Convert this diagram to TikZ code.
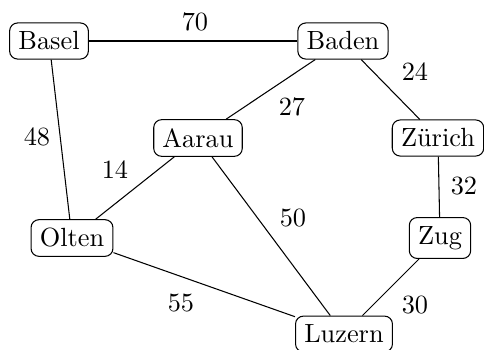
\documentclass[tikz,border=0pt]{standalone}
\begin{document}
\begin{tikzpicture}[x=0.38pt,y=-0.38pt,
  city/.style={draw,rounded corners=3pt,inner sep=3.33pt},
  dist/.style={inner sep=1pt}]
\useasboundingbox (0,0) rectangle (484,349);
% cities
\node[city] (basel)  at (49,41)   {Basel};
\node[city] (baden)  at (343,41)  {Baden};
\node[city] (aarau)  at (198,138) {Aarau};
\node[city] (zurich) at (438,138) {Zürich};
\node[city] (olten)  at (72,238)  {Olten};
\node[city] (zug)    at (440,238) {Zug};
\node[city] (luzern) at (344,334) {Luzern};
% roads
\draw (basel) -- (baden);
\draw (basel) -- (olten);
\draw (baden) -- (aarau);
\draw (baden) -- (zurich);
\draw (aarau) -- (olten);
\draw (aarau) -- (luzern);
\draw (zurich) -- (zug);
\draw (olten) -- (luzern);
\draw (zug) -- (luzern);
% distances
\node[dist] (d70) at (195,22)  {70};
\node[dist] (d24) at (415,72)  {24};
\node[dist] (d27) at (292,107) {27};
\node[dist] (d48) at (37,137)  {48};
\node[dist] (d14) at (115,170) {14};
\node[dist] (d32) at (464,186) {32};
\node[dist] (d50) at (293,218) {50};
\node[dist] (d55) at (181,303) {55};
\node[dist] (d30) at (415,305) {30};
\end{tikzpicture}
\end{document}
